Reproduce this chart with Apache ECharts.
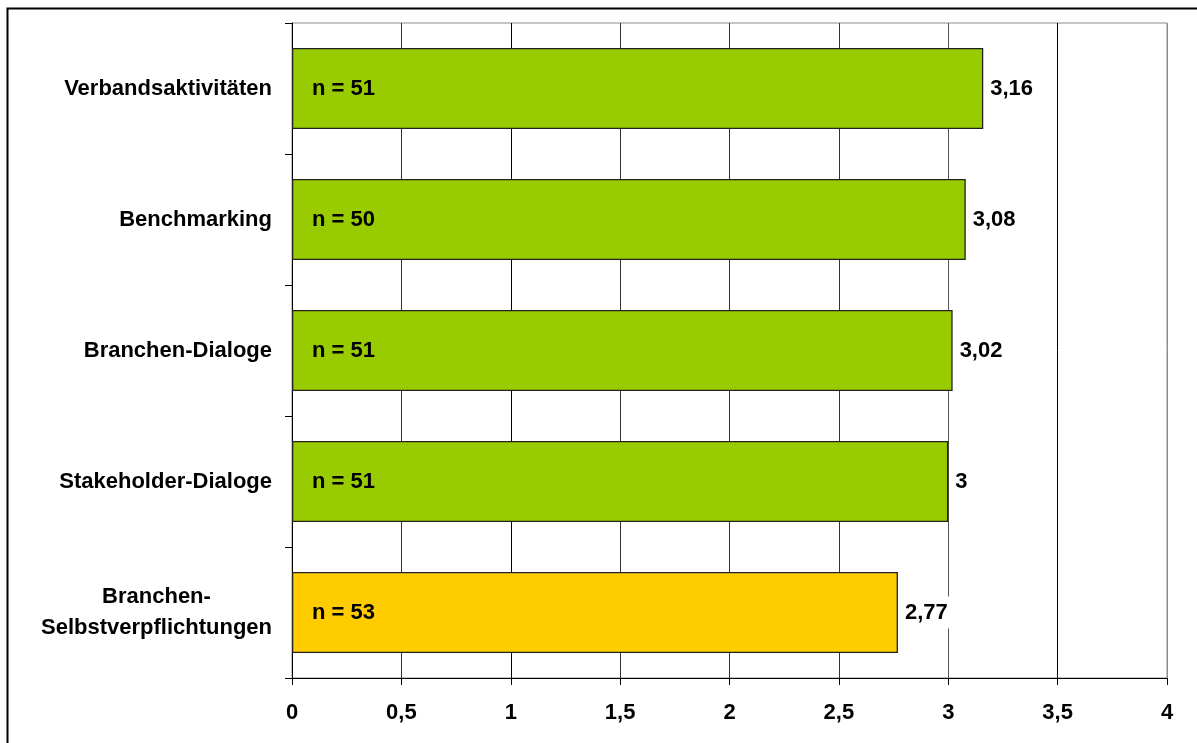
<!DOCTYPE html>
<html>
<head>
<meta charset="utf-8">
<script src="https://cdn.jsdelivr.net/npm/echarts@6/dist/echarts.min.js"></script>
<style>
  html, body { margin: 0; padding: 0; background: #fff; }
  #chart { width: 1197px; height: 743px; }
</style>
</head>
<body>
<div id="chart"></div>
<script>
// Kategorien (von oben nach unten)
const categories = [
  'Verbandsaktivitäten',
  'Benchmarking',
  'Branchen-Dialoge',
  'Stakeholder-Dialoge',
  'Branchen-\nSelbstverpflichtungen'
];
// Mittelwerte je Kategorie
const meanValues = [3.16, 3.08, 3.02, 3, 2.77];
// Anzahl der Antworten je Kategorie
const sampleSizes = [51, 50, 51, 51, 53];
// Achsenbeschriftung
const tickLabels = ['0', '0,5', '1', '1,5', '2', '2,5', '3', '3,5', '4'];

const GREEN = '#99CC00';
const YELLOW = '#FFCC00';
const FONT = '"Liberation Sans", Arial, sans-serif';

const fmt = v => String(v).replace('.', ',');

const chart = echarts.init(document.getElementById('chart'), null, { renderer: 'canvas' });

chart.setOption({
  animation: false,
  backgroundColor: '#fff',
  textStyle: { fontFamily: FONT },
  graphic: [{
    type: 'rect',
    shape: { x: 7.5, y: 8.5, width: 1220, height: 800 },
    style: { fill: 'none', stroke: '#000', lineWidth: 2 },
    silent: true,
    z: 100
  }],
  grid: {
    left: 292, right: 30, top: 23, bottom: 65,
    show: true, borderColor: '#8c8c8c', borderWidth: 1, backgroundColor: '#fff'
  },
  xAxis: {
    type: 'value',
    min: 0, max: 4, interval: 0.5,
    axisLine: { show: true, lineStyle: { color: '#000', width: 1 } },
    axisTick: { show: true, length: 7, lineStyle: { color: '#000' } },
    axisLabel: {
      margin: 24,
      color: '#000',
      fontFamily: FONT,
      fontWeight: 'bold',
      fontSize: 22,
      formatter: (v) => tickLabels[Math.round(v / 0.5)]
    },
    splitLine: {
      show: true,
      lineStyle: {
        color: ['#000', '#333', '#000', '#333', '#333', '#333', '#555', '#000', '#8c8c8c'],
        width: 1
      }
    }
  },
  yAxis: {
    type: 'category',
    inverse: true,
    data: categories,
    axisLine: { show: true, lineStyle: { color: '#000', width: 1 } },
    axisTick: { show: true, length: 7, lineStyle: { color: '#000' } },
    axisLabel: {
      margin: 20,
      color: '#000',
      fontFamily: FONT,
      fontWeight: 'bold',
      fontSize: 22,
      lineHeight: 31,
      formatter: (v) => v.indexOf('\n') >= 0
        ? v.split('\n').map(s => '{c|' + s + '}').join('\n')
        : v,
      rich: {
        c: {
          align: 'center',
          color: '#000',
          fontFamily: FONT,
          fontWeight: 'bold',
          fontSize: 22,
          lineHeight: 31
        }
      }
    },
    splitLine: { show: false }
  },
  series: [
    {
      name: 'Mittelwert',
      type: 'bar',
      barCategoryGap: '38%',
      barGap: '-100%',
      data: meanValues.map((v, i) => ({
        value: v,
        itemStyle: { color: i === meanValues.length - 1 ? YELLOW : GREEN }
      })),
      itemStyle: { borderColor: '#222', borderWidth: 1.3 },
      label: {
        show: true,
        position: 'right',
        distance: 5,
        padding: [5, 2],
        backgroundColor: '#fff',
        color: '#000',
        fontFamily: FONT,
        fontWeight: 'bold',
        fontSize: 22,
        formatter: (p) => fmt(p.value)
      }
    },
    {
      name: 'n',
      type: 'bar',
      barCategoryGap: '38%',
      barGap: '-100%',
      data: meanValues,
      itemStyle: { color: 'rgba(0,0,0,0)', borderWidth: 0 },
      label: {
        show: true,
        position: 'insideLeft',
        distance: 20,
        color: '#000',
        fontFamily: FONT,
        fontWeight: 'bold',
        fontSize: 22,
        formatter: (p) => 'n = ' + sampleSizes[p.dataIndex]
      },
      silent: true
    }
  ]
});
</script>
</body>
</html>
